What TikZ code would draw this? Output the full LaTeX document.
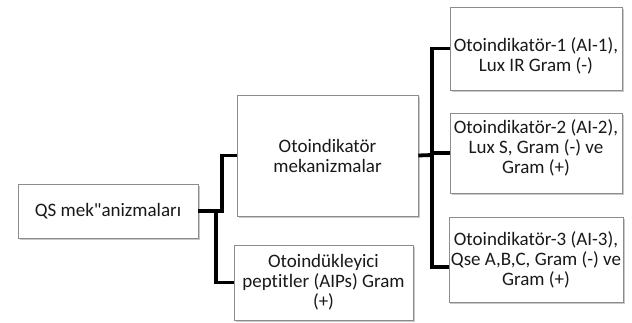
\documentclass[tikz,border=0pt]{standalone}
\usepackage{fontspec}
\setmainfont{Carlito}[Ligatures={NoCommon}]
\usetikzlibrary{shadows}
\newcommand{\shiftedtext}[2]{\raisebox{#1}[\height][\depth]{\begin{tabular}{@{}c@{}}#2\end{tabular}}}
\begin{document}
\begin{tikzpicture}[x=1pt,y=-1pt,
  box/.style={draw=black!45, line width=0.6pt, fill=white, align=center,
    inner sep=2pt, font=\fontsize{19}{20}\selectfont, text=black!90,
    drop shadow={shadow xshift=1.5pt, shadow yshift=-2pt, opacity=0.35, fill=black!60}},
  conn/.style={line width=3.8pt, line join=miter, black}]
\useasboundingbox (0,0) rectangle (632,322);
\fill[white] (0,0) rectangle (632,322);
\node[box, minimum width=180pt, minimum height=54pt] (qs) at (108,211) {QS mek\textquotedbl anizmaları};
\node[box, minimum width=181pt, minimum height=121pt] (mek) at (327.5,155.5) {Otoindikatör\\mekanizmalar};
\node[box, minimum width=179pt, minimum height=75pt] (pep) at (323.5,282.5) {Otoindükleyici\\peptitler (AIPs) Gram\\(+)};
\node[box, minimum width=172pt, minimum height=83pt] (b1) at (536,48.5) {\shiftedtext{-9pt}{Otoindikatör-1 (AI-1),\\Lux IR Gram (-)}};
\node[box, minimum width=172pt, minimum height=80pt] (b2) at (536,153) {\shiftedtext{4pt}{Otoindikatör-2 (AI-2),\\Lux S, Gram (-) ve\\Gram (+)}};
\node[box, minimum width=172pt, minimum height=85pt] (b3) at (536,259.5) {Otoindikatör-3 (AI-3),\\Qse A,B,C, Gram (-) ve\\Gram (+)};
\coordinate (ja) at (222,211);
\coordinate (jb) at (216,211);
\coordinate (jc) at (432,155);
\draw[conn] (qs.east) -- (ja) |- (mek.west);
\draw[conn] (jb) |- (pep.west);
\draw[conn] (mek.east) -- (jc);
\draw[conn] (jc) |- (b1.west);
\draw[conn] (jc) |- (b2.west);
\draw[conn] (jc) |- ([yshift=-7.5pt]b3.west);
\end{tikzpicture}
\end{document}
